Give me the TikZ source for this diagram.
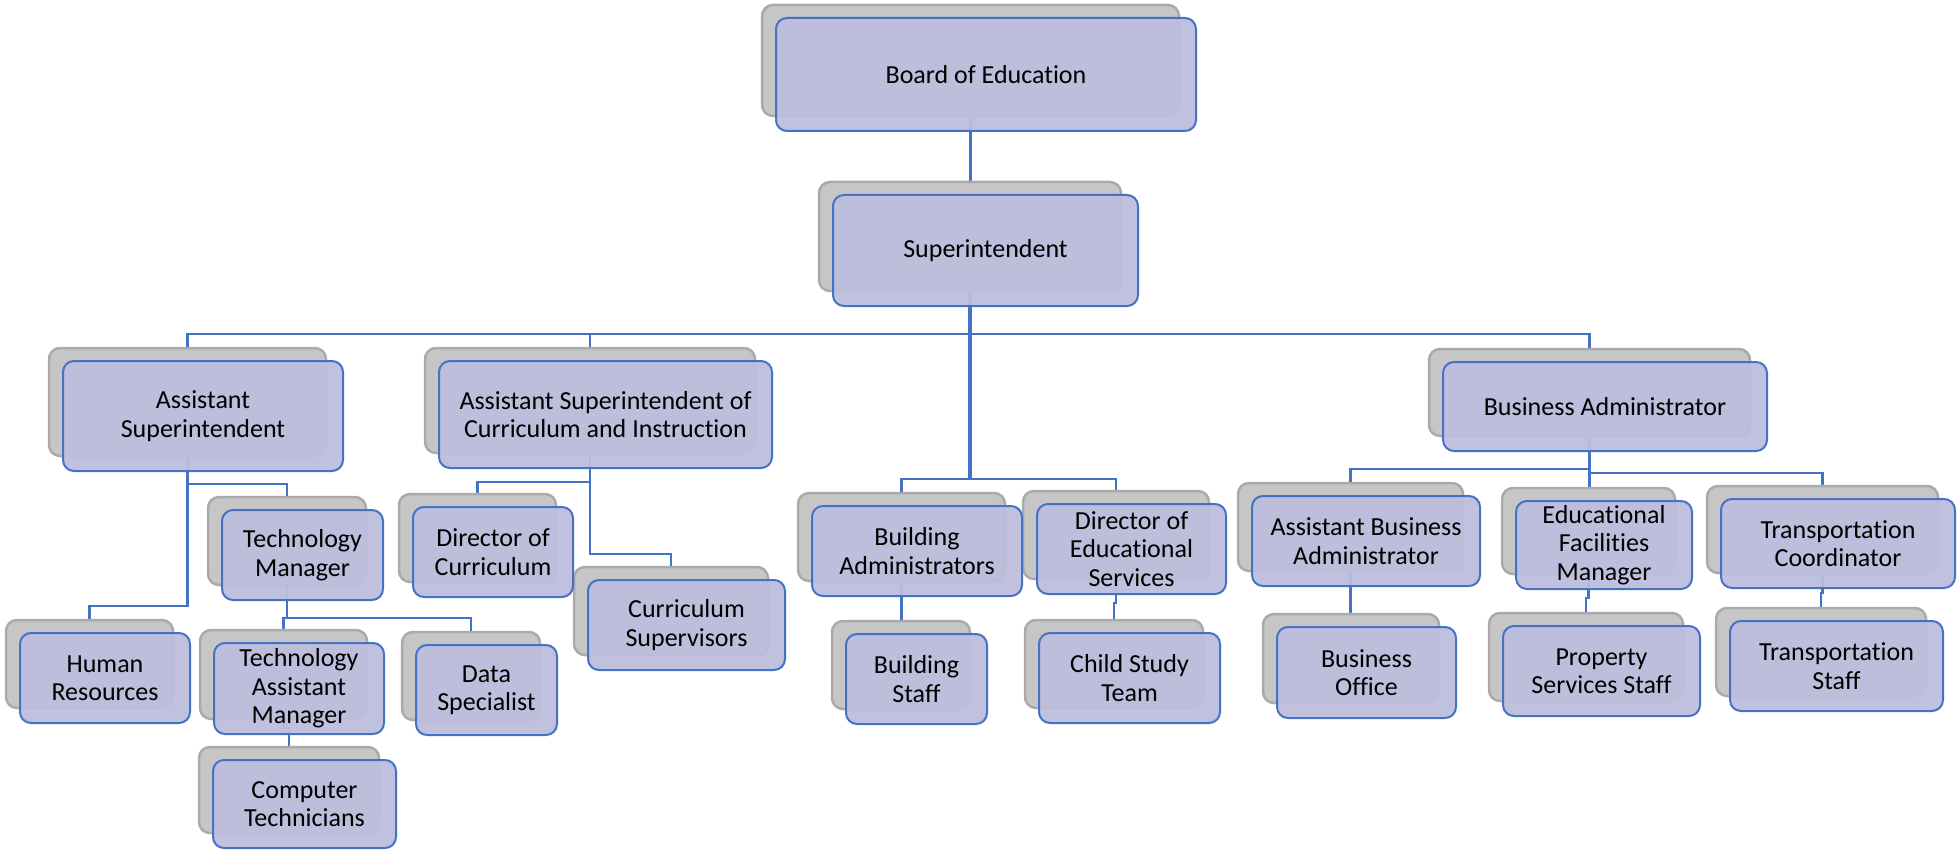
\documentclass[tikz,border=0pt]{standalone}
\usepackage{fontspec}
\setmainfont{Carlito}[Ligatures=NoCommon]
\usetikzlibrary{backgrounds}
\definecolor{unitfill}{RGB}{188,190,221}
\definecolor{unitline}{RGB}{68,114,196}
\definecolor{backfill}{RGB}{198,198,198}
\definecolor{backline}{RGB}{170,170,170}

\begin{document}
\begin{tikzpicture}[x=1pt,y=-1pt,
  unit/.style 2 args={draw=unitline, line width=2pt, fill=unitfill, fill opacity=0.95, text opacity=1,
    rounded corners=11pt, minimum width=#1pt, minimum height=#2pt, inner sep=0pt, align=center,
    font=\fontsize{26}{28.5}\selectfont},
  back/.style 2 args={draw=backline, line width=2.5pt, fill=backfill, rounded corners=11pt,
    minimum width=#1pt-3pt, minimum height=#2pt-2pt, inner sep=0pt},
  link/.style={draw=unitline, line width=2.5pt}]
\useasboundingbox (0,0) rectangle (1959,850);
%grey back plates
\node[back={420}{113}] (boe-b) at (970.5,60.5) {};
\node[back={305}{111}] (supt-b) at (970,236.5) {};
\node[back={280}{110}] (asup-b) at (187.5,402) {};
\node[back={333}{107}] (asci-b) at (590,400.5) {};
\node[back={324}{89}] (badm-b) at (1589.5,392.5) {};
\node[back={161}{90}] (tman-b) at (287,541) {};
\node[back={170}{90}] (hres-b) at (89.5,664) {};
\node[back={170}{91}] (tam-b) at (283.5,674.5) {};
\node[back={183}{88}] (ctech-b) at (289,790) {};
\node[back={160}{90}] (dcur-b) at (477.5,538) {};
\node[back={197}{90}] (csup-b) at (671,611) {};
\node[back={141}{90}] (dspec-b) at (471,676) {};
\node[back={210}{90}] (badmins-b) at (901.5,537) {};
\node[back={189}{90}] (dedu-b) at (1116,535) {};
\node[back={141}{90}] (bstaff-b) at (901,665) {};
\node[back={181}{90}] (cst-b) at (1114,664) {};
\node[back={228}{90}] (aba-b) at (1350.5,527) {};
\node[back={176}{88}] (efm-b) at (1588.5,531) {};
\node[back={234}{89}] (tcoord-b) at (1822.5,529.5) {};
\node[back={179}{91}] (boff-b) at (1351,658.5) {};
\node[back={197}{90}] (pss-b) at (1586,657) {};
\node[back={213}{90}] (tstaff-b) at (1821,652) {};
%front boxes
\node[unit={420}{113}] (boe) at (986,74.5) {Board of Education};
\node[unit={305}{111}] (supt) at (985.5,250.5) {Superintendent};
\node[unit={280}{110}] (asup) at (203,416) {Assistant\\Superintendent};
\node[unit={333}{107}] (asci) at (605.5,414.5) {Assistant Superintendent of\\Curriculum and Instruction};
\node[unit={324}{89}] (badm) at (1605,406.5) {Business Administrator};
\node[unit={161}{90}] (tman) at (302.5,555) {Technology\\Manager};
\node[unit={170}{90}] (hres) at (105,678) {Human\\Resources};
\node[unit={170}{91}] (tam) at (299,688.5) {Technology\\Assistant\\Manager};
\node[unit={183}{88}] (ctech) at (304.5,804) {Computer\\Technicians};
\node[unit={160}{90}] (dcur) at (493,552) {Director of\\Curriculum};
\node[unit={197}{90}] (csup) at (686.5,625) {Curriculum\\Supervisors};
\node[unit={141}{90}] (dspec) at (486.5,690) {Data\\Specialist};
\node[unit={210}{90}] (badmins) at (917,551) {Building\\Administrators};
\node[unit={189}{90}] (dedu) at (1131.5,549) {Director of\\Educational\\Services};
\node[unit={141}{90}] (bstaff) at (916.5,679) {Building\\Staff};
\node[unit={181}{90}] (cst) at (1129.5,678) {Child Study\\Team};
\node[unit={228}{90}] (aba) at (1366,541) {Assistant Business\\Administrator};
\node[unit={176}{88}] (efm) at (1604,545) {Educational\\Facilities\\Manager};
\node[unit={234}{89}] (tcoord) at (1838,543.5) {Transportation\\Coordinator};
\node[unit={179}{91}] (boff) at (1366.5,672.5) {Business\\Office};
\node[unit={197}{90}] (pss) at (1601.5,671) {Property\\Services Staff};
\node[unit={213}{90}] (tstaff) at (1836.5,666) {Transportation\\Staff};
%connectors behind the boxes
\begin{scope}[on background layer]
\draw[link] (boe-b.south) -- (boe-b.south |- supt-b.north);
\draw[link] (supt-b.south) -- (supt-b.south |- 0,334) -| (asup-b.north);
\draw[link] (supt-b.south) -- (supt-b.south |- 0,334) -| (asci-b.north);
\draw[link] (supt-b.south) -- (supt-b.south |- 0,334) -| (badm-b.north);
\draw[link] (supt-b.south) -- (supt-b.south |- 0,479) -| (badmins-b.north);
\draw[link] (supt-b.south) -- (supt-b.south |- 0,479) -| (dedu-b.north);
\draw[link,line width=3.5pt] (supt-b.south) -- (supt-b.south |- 0,479);
%assistant superintendent branch
\draw[link] (asup-b.south) -- (asup-b.south |- 0,484) -| (tman-b.north);
\draw[link] (asup-b.south) -- (asup-b.south |- 0,606) -| (hres-b.north);
\draw[link] (tman-b.south) -- (tman-b.south |- 0,618) -| (tam-b.north);
\draw[link] (tman-b.south) -- (tman-b.south |- 0,618) -| (dspec-b.north);
\draw[link] (tam-b.south) -- (tam-b.south |- 0,728) -| (ctech-b.north);
%curriculum branch
\draw[link] (asci-b.south) -- (asci-b.south |- 0,482) -| (dcur-b.north);
\draw[link] (asci-b.south) -- (asci-b.south |- 0,554) -| (csup-b.north);
%buildings
\draw[link] (badmins-b.south) -- (badmins-b.south |- bstaff-b.north);
\draw[link] (dedu-b.south) -- (dedu-b.south |- 0,603) -| (cst-b.north);
%business branch
\draw[link] (badm-b.south) -- (badm-b.south |- 0,469) -| (aba-b.north);
\draw[link] (badm-b.south) -- (badm-b.south |- 0,473) -| (tcoord-b.north);
\draw[link] (badm-b.south) -- (badm-b.south |- efm-b.north);
\draw[link] (aba-b.south) -- (aba-b.south |- boff-b.north);
\draw[link] (efm-b.south) -- (efm-b.south |- 0,598) -| (pss-b.north);
\draw[link] (tcoord-b.south) -- (tcoord-b.south |- 0,593) -| (tstaff-b.north);
\end{scope}
\end{tikzpicture}
\end{document}
